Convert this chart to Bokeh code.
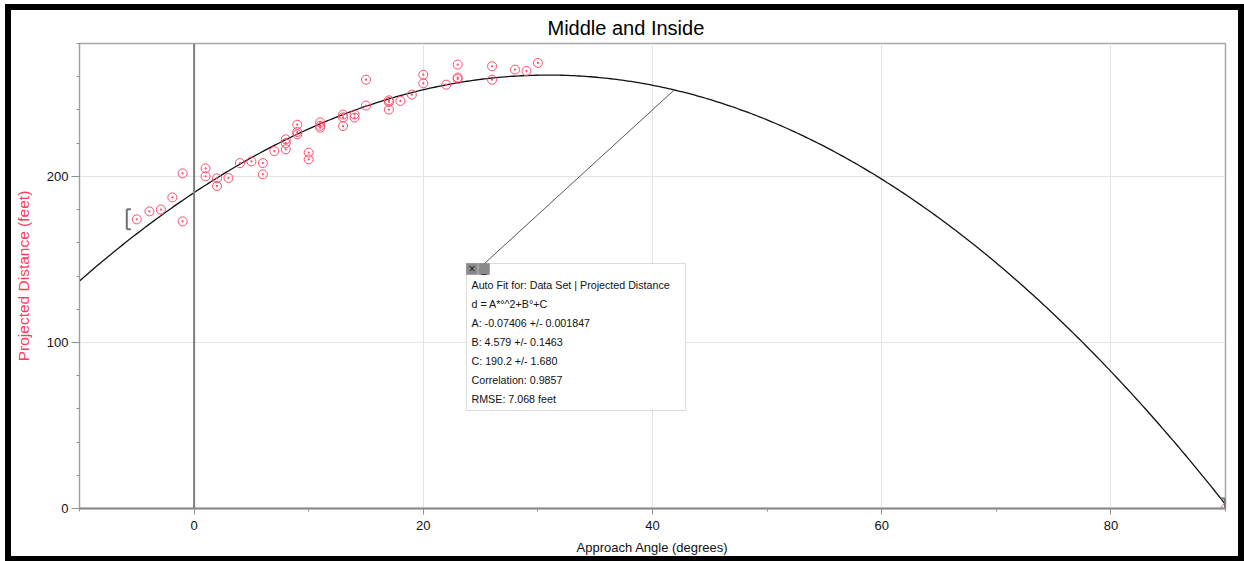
import numpy as np
from bokeh.plotting import figure
from bokeh.models import (Span, BoxAnnotation, Label, SingleIntervalTicker, Range1d)
from bokeh.embed import file_html
from bokeh.resources import INLINE

# ---------------- data ----------------
angle = [-5.0, -3.9, -2.9, -1.9, -1.0, -1.0, 1.0, 1.0, 2.0, 2.0, 3.0, 4.0, 5.0, 6.0, 6.0,
         7.0, 8.0, 8.0, 8.0, 9.0, 9.0, 9.0, 10.0, 10.0, 11.0, 11.0, 11.0,
         13.0, 13.0, 13.0, 14.0, 14.0, 15.0, 15.0, 17.0, 17.0, 17.0, 18.0, 19.0,
         20.0, 20.0, 22.0, 23.0, 23.0, 23.0, 26.0, 26.0, 28.0, 29.0, 30.0, 90.0]
distance = [174.1, 178.9, 180.0, 187.3, 201.8, 172.9, 204.8, 200.0, 198.8, 194.2, 199.0, 208.0, 209.0, 208.0, 201.2,
            215.2, 216.3, 220.0, 222.3, 231.1, 226.7, 225.3, 214.3, 210.2, 232.5, 230.5, 229.3,
            237.2, 235.5, 230.3, 237.3, 235.4, 258.2, 242.6, 245.8, 244.8, 240.2, 245.4, 249.2,
            261.2, 256.0, 255.2, 267.3, 259.5, 258.6, 266.3, 258.2, 264.3, 263.4, 268.3, 0.0]

fit_A, fit_dA = -0.07406, 0.001847
fit_B, fit_dB = 4.579, 0.1463
fit_C, fit_dC = 190.2, 1.680
correlation = 0.9857
rmse = 7.068
x_ticks_major = 20
y_ticks_major = 100

info_lines = [
    "Auto Fit for: Data Set | Projected Distance",
    "d = A*\u00b0^2+B\u00b0+C",
    f"A: {fit_A} +/- {fit_dA}",
    f"B: {fit_B} +/- {fit_dB}",
    f"C: {fit_C} +/- {fit_dC:.3f}",
    f"Correlation: {correlation}",
    f"RMSE: {rmse} feet",
]

# ---------------- figure ----------------
XMIN, XMAX, YMIN, YMAX = -10, 90, 0, 280
W, H = 1227, 546          # requested size; the 6px CSS border makes the canvas W+12 x H+12
BORDER = 6
CW, CH = W + 2 * BORDER, H + 2 * BORDER
ML, MR, MT, MB = 68, 25, 33, 60
FW, FH = CW - ML - MR, CH - MT - MB
sx = FW / (XMAX - XMIN)   # px per x unit
sy = FH / (YMAX - YMIN)   # px per y unit

FONT = "Liberation Sans"

p = figure(width=W, height=H, x_range=Range1d(XMIN, XMAX), y_range=Range1d(YMIN, YMAX),
           output_backend="svg", toolbar_location=None, tools="",
           min_border_left=ML, min_border_right=MR, min_border_top=MT, min_border_bottom=MB,
           title="Middle and Inside")
p.styles = {"border": f"{BORDER}px solid black", "margin-left": "5px", "margin-top": "4px",
            "box-sizing": "content-box"}

p.title.text_font = FONT
p.title.text_font_size = "20px"
p.title.text_font_style = "normal"
p.title.text_color = "black"
p.title.align = "left"
p.title.offset = 468
p.title.standoff = 9

p.outline_line_color = "#a8a8a8"
p.outline_line_width = 1.5
p.background_fill_color = "white"
p.border_fill_color = "white"

p.xaxis.ticker = SingleIntervalTicker(interval=x_ticks_major, num_minor_ticks=2)
p.yaxis.ticker = SingleIntervalTicker(interval=y_ticks_major, num_minor_ticks=5)
p.xgrid.ticker = p.xaxis.ticker
p.ygrid.ticker = p.yaxis.ticker
p.grid.grid_line_color = "#e3e3e3"
p.grid.grid_line_width = 1

for ax in (p.xaxis[0], p.yaxis[0]):
    ax.major_label_text_font = FONT
    ax.major_label_text_font_size = "13px"
    ax.major_label_text_color = "#111111"
    ax.axis_label_text_font = FONT
    ax.axis_label_text_font_style = "normal"
    ax.major_tick_in = 0
    ax.minor_tick_in = 0
    ax.major_tick_line_color = "#909090"
    ax.minor_tick_line_color = "#909090"

p.xaxis.axis_label = "Approach Angle (degrees)"
p.xaxis.axis_label_text_font_size = "13px"
p.xaxis.axis_label_text_color = "#111111"
p.xaxis.axis_line_color = "#8a8a8a"
p.xaxis.axis_line_width = 2
p.xaxis.major_tick_out = 6
p.xaxis.minor_tick_out = 3
p.xaxis.major_label_standoff = 6
p.xaxis.axis_label_standoff = 7

p.yaxis.axis_label = "Projected Distance (feet)"
p.yaxis.axis_label_text_font_size = "15.5px"
p.yaxis.axis_label_text_color = "#ff3b5c"
p.yaxis.axis_line_color = "#a0a0a0"
p.yaxis.axis_line_width = 1
p.yaxis.major_tick_out = 8
p.yaxis.minor_tick_out = 3
p.yaxis.major_label_standoff = 3
p.yaxis.axis_label_standoff = 12

# zero line
p.add_layout(Span(location=0, dimension="height", line_color="#7d7d7d", line_width=2))

# fit curve
xf = np.linspace(XMIN, XMAX, 400)
yf = fit_A * xf ** 2 + fit_B * xf + fit_C
p.line(xf, yf, line_color="#111111", line_width=1.3)

# data points
p.scatter(angle, distance, marker="circle_dot", size=9, line_color="#ff4d6d",
          fill_color=None, line_width=1)

# range brackets (fit range = first and last data point)
x0, y0 = angle[0], distance[0]
x1, y1 = angle[-1], distance[-1]
bh = 10 / sy
lx = x0 - 10 / sx
serif = 4 / sx
p.segment(x0=[lx, lx, lx], y0=[y0 - bh, y0 - bh, y0 + bh],
          x1=[lx, lx + serif, lx + serif], y1=[y0 + bh, y0 - bh, y0 + bh],
          line_color="#707070", line_width=2)
rx = x1 - 0.5 / sx
p.segment(x0=[rx, rx, rx], y0=[y1 - bh, y1 - bh, y1 + bh],
          x1=[rx, rx - serif, rx - serif], y1=[y1 + bh, y1 - bh, y1 + bh],
          line_color="#707070", line_width=2)

# annotation box (positions in pixels relative to the frame)
def px2x(px):
    return XMIN + px / sx

def py2y(py):
    return YMAX - py / sy

box_l, box_r, box_t, box_b = 387, 606, 220, 367   # frame-relative px
# connector line from box to curve
xc = 41.9
p.segment(x0=[px2x(405)], y0=[py2y(box_t)], x1=[xc], y1=[fit_A * xc ** 2 + fit_B * xc + fit_C],
          line_color="#555555", line_width=1)

p.add_layout(BoxAnnotation(left=px2x(box_l), right=px2x(box_r), top=py2y(box_t), bottom=py2y(box_b),
                           fill_color="white", fill_alpha=1, line_color="#8c8c8c", line_width=1,
                           level="overlay"))
# window buttons
p.add_layout(BoxAnnotation(left=px2x(box_l), right=px2x(box_l + 11), top=py2y(box_t), bottom=py2y(box_t + 11),
                           fill_color="#8a8a8a", fill_alpha=1, line_color="#555555", line_width=1,
                           level="overlay"))
p.add_layout(BoxAnnotation(left=px2x(box_l + 12), right=px2x(box_l + 23), top=py2y(box_t), bottom=py2y(box_t + 11),
                           fill_color="#8a8a8a", fill_alpha=1, line_color="#555555", line_width=1,
                           level="overlay"))
p.add_layout(Label(x=px2x(box_l + 5.5), y=py2y(box_t + 5.5), text="\u00d7", text_align="center",
                   text_baseline="middle", text_font=FONT, text_font_size="12px", text_color="#222222",
                   level="overlay"))
p.add_layout(Label(x=px2x(box_l + 17.5), y=py2y(box_t + 6), text="_", text_align="center",
                   text_baseline="middle", text_font=FONT, text_font_size="10px", text_color="#222222",
                   level="overlay"))

for i, line in enumerate(info_lines):
    p.add_layout(Label(x=px2x(box_l + 5), y=py2y(box_t + 21 + 19 * i), text=line,
                       text_align="left", text_baseline="middle", text_font=FONT,
                       text_font_size="10.7px", text_color="#111111", level="overlay"))

open("out.html", "w").write(file_html(p, INLINE))
